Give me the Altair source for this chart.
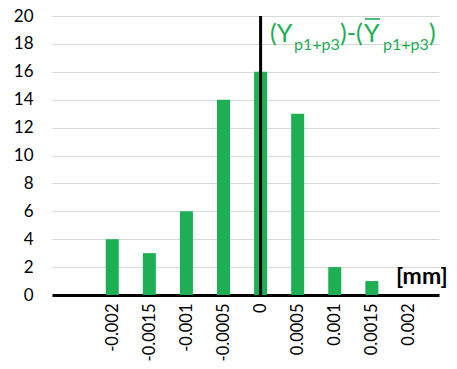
import altair as alt
import pandas as pd

bins = [-0.002, -0.0015, -0.001, -0.0005, 0.0, 0.0005, 0.001, 0.0015, 0.002]
counts = [4, 3, 6, 14, 16, 13, 2, 1, 0]
y_ticks = list(range(0, 21, 2))

GREEN = "#1DAF54"
FONT = "Lato"

df = pd.DataFrame({"bin": bins, "count": counts})

xscale = alt.Scale(domain=[-0.002745, 0.002338], nice=False, zero=False)
yscale = alt.Scale(domain=[0, 20], nice=False)

xaxis = alt.Axis(values=bins, labelExpr="toString(datum.value)", labelAngle=270,
                 labelPadding=8, ticks=False, grid=False, title=None,
                 labelOverlap=False, domainColor="black", domainWidth=3,
                 labelFont=FONT, labelFontSize=16.5, labelColor="black")
yaxis = alt.Axis(values=y_ticks, domain=False, ticks=False, labelPadding=19,
                 labelOverlap=False, gridColor="#d9d9d9", gridWidth=1, title=None,
                 labelFont=FONT, labelFontSize=17, labelColor="black")

bars = alt.Chart(df).mark_bar(color=GREEN, size=13).encode(
    x=alt.X("bin:Q", scale=xscale, axis=xaxis),
    y=alt.Y("count:Q", scale=yscale, axis=yaxis),
)

vline = alt.Chart(pd.DataFrame({"x": [0.0], "y": [0], "y2": [20]})).mark_rule(
    color="black", strokeWidth=3).encode(
    x=alt.X("x:Q", scale=xscale, axis=xaxis),
    y=alt.Y("y:Q", scale=yscale, axis=yaxis),
    y2="y2:Q")

def label(text, x, y, size, color=GREEN, weight="normal"):
    return alt.Chart(pd.DataFrame({"t": [text]})).mark_text(
        align="left", baseline="alphabetic", font=FONT, fontSize=size,
        color=color, fontWeight=weight).encode(
        x=alt.value(x), y=alt.value(y), text="t:N")

texts = [
    label("(Y", 218, 26, 25),
    label("p1+p3", 242, 34, 16),
    label(")-(", 288, 26, 25),
    label("Y", 312, 26, 25),
    label("p1+p3", 331, 34, 16),
    label(")", 377, 26, 25),
    label("[mm]", 344, 268, 23, color="black", weight="bold"),
]

overline = alt.Chart(pd.DataFrame({"t": [0]})).mark_rule(
    color=GREEN, strokeWidth=1.6).encode(
    x=alt.value(313), x2=alt.value(328), y=alt.value(3))

chart = alt.layer(bars, vline, *texts, overline).properties(
    width=387, height=279,
    autosize=alt.AutoSizeParams(type="none"),
    padding={"left": 44, "top": 8, "right": 10, "bottom": 66},
).configure_view(stroke=None)

chart.save("out.html", embed_options={"renderer": "svg", "actions": False})
